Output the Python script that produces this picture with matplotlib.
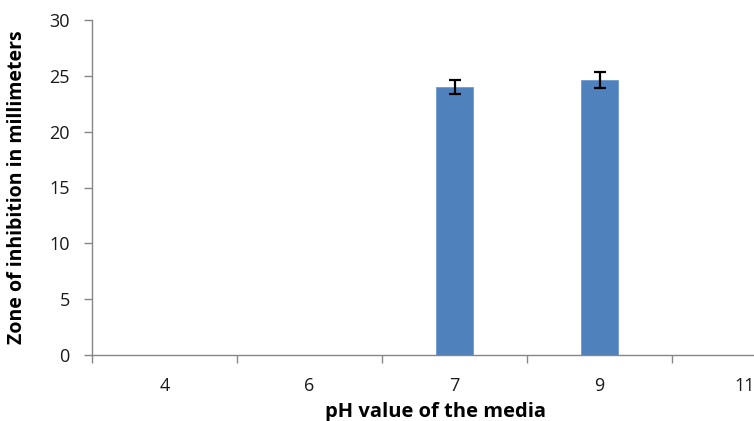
import matplotlib.pyplot as plt
import numpy as np

# pH values and measured zones (mm)
ph_labels = ['4', '6', '7', '9', '11']
zone_mm = [0, 0, 24.0, 24.65, 0]
zone_err = [0, 0, 0.6, 0.7, 0]

plt.rcParams['font.family'] = ['Open Sans', 'DejaVu Sans']

fig = plt.figure(figsize=(7.54, 4.21), dpi=100)
# axes runs past the right edge of the picture, like the original crop
ax = fig.add_axes([92/754, 1 - 355/421, 725/754, 335/421])

x = np.arange(len(ph_labels))
shown = [i for i, v in enumerate(zone_mm) if v > 0]

ax.bar(x[shown], [zone_mm[i] for i in shown], width=0.255, color='#4F81BD',
       edgecolor='#6F9AD0', linewidth=0.6, zorder=2)
ax.errorbar(x[shown], [zone_mm[i] for i in shown], yerr=[zone_err[i] for i in shown],
            fmt='none', ecolor='black', elinewidth=1.6, capsize=4, capthick=1.6, zorder=3)

ax.set_xlim(-0.5, len(ph_labels) - 0.5)
ax.set_ylim(0, 30)
ax.set_yticks(np.arange(0, 31, 5))

ax.set_xticks(x)
ax.set_xticklabels(ph_labels)
ax.set_xticks(np.arange(-0.5, len(ph_labels), 1), minor=True)
ax.tick_params(axis='x', which='major', length=0, pad=16, labelsize=13, colors='#1a1a1a')
ax.tick_params(axis='x', which='minor', length=6, width=1, color='#868686', direction='out')
ax.tick_params(axis='y', length=6, width=1, color='#868686', labelsize=13, pad=10,
               labelcolor='#1a1a1a')

for s in ['top', 'right']:
    ax.spines[s].set_visible(False)
for s in ['left', 'bottom']:
    ax.spines[s].set_color('#868686')
    ax.spines[s].set_linewidth(1)

ax.set_xlabel('pH value of the media', fontsize=14.5, fontweight='bold')
ax.set_ylabel('Zone of inhibition in millimeters', fontsize=14, fontweight='bold')
ax.xaxis.set_label_coords((435 - 92) / 725, -(402 - 355) / 335)
ax.yaxis.set_label_coords(-(92 - 27) / 725, 0.5)

fig.savefig('out.png', dpi=100)
